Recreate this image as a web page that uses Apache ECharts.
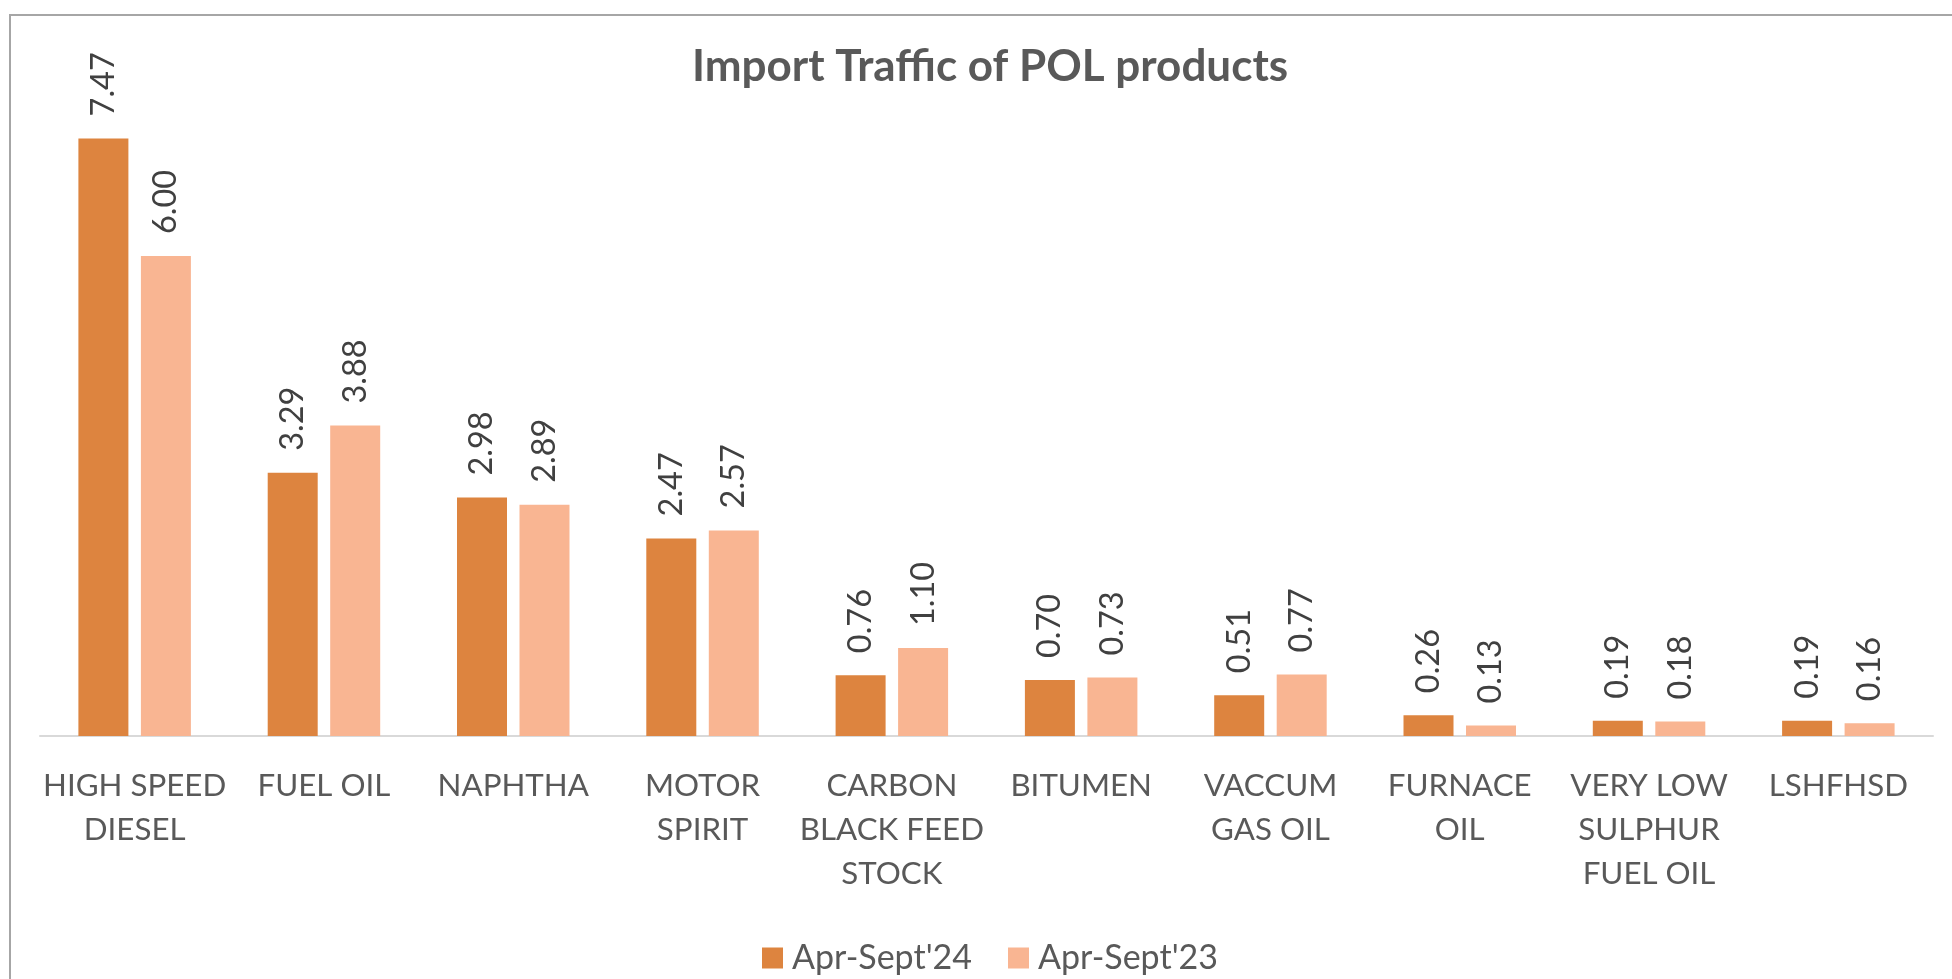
<!DOCTYPE html>
<html>
<head>
<meta charset="utf-8">
<script src="https://cdn.jsdelivr.net/npm/echarts@6/dist/echarts.min.js"></script>
<style>
html,body{margin:0;padding:0;background:#fff;}
#chart{width:1952px;height:979px;}
</style>
</head>
<body>
<div id="chart"></div>
<script>
const categories = ["HIGH SPEED\nDIESEL", "FUEL OIL", "NAPHTHA", "MOTOR\nSPIRIT", "CARBON\nBLACK FEED\nSTOCK", "BITUMEN", "VACCUM\nGAS OIL", "FURNACE\nOIL", "VERY LOW\nSULPHUR\nFUEL OIL", "LSHFHSD"];
const seriesNames = ["Apr-Sept'24", "Apr-Sept'23"];
const values24 = [7.47, 3.29, 2.98, 2.47, 0.76, 0.70, 0.51, 0.26, 0.19, 0.19];
const values23 = [6.00, 3.88, 2.89, 2.57, 1.10, 0.73, 0.77, 0.13, 0.18, 0.16];

const FONT = 'Lato, "Open Sans", sans-serif';
const chart = echarts.init(document.getElementById('chart'));

const labelCfg = {
  show: true,
  position: 'top',
  rotate: 90,
  align: 'left',
  verticalAlign: 'middle',
  distance: 22,
  fontFamily: FONT,
  fontSize: 32.5,
  color: '#404040',
  formatter: p => p.value.toFixed(2)
};

chart.setOption({
  animation: false,
  graphic: [{
    type: 'rect',
    shape: {x: 10, y: 15, width: 1960, height: 1000},
    style: {fill: 'none', stroke: '#a6a6a6', lineWidth: 2},
    silent: true
  }],
  title: {
    text: 'Import Traffic of POL products',
    left: 985,
    textAlign: 'center',
    top: 40,
    textStyle: {fontFamily: FONT, fontSize: 44, fontWeight: 'bold', color: '#595959'}
  },
  legend: {
    data: seriesNames,
    left: 757,
    top: 936,
    itemWidth: 21,
    itemHeight: 21,
    itemGap: 36,
    icon: 'rect',
    textStyle: {fontFamily: FONT, fontSize: 34, color: '#595959', padding: [0,0,0,4]}
  },
  grid: {left: 40, right: 19, top: 96, bottom: 243, containLabel: false},
  xAxis: {
    type: 'category',
    data: categories,
    axisLine: {show: true, lineStyle: {color: '#d9d9d9', width: 2}},
    axisTick: {show: false},
    axisLabel: {
      interval: 0,
      margin: 28,
      fontFamily: FONT,
      fontSize: 31.3,
      lineHeight: 44,
      color: '#595959'
    }
  },
  yAxis: {
    type: 'value',
    min: 0,
    max: 8,
    show: false,
    splitLine: {show: false}
  },
  series: [
    {
      name: seriesNames[0],
      type: 'bar',
      data: values24,
      barWidth: 50,
      barGap: '25%',
      itemStyle: {color: '#dd843f'},
      label: labelCfg
    },
    {
      name: seriesNames[1],
      type: 'bar',
      data: values23,
      barWidth: 50,
      barGap: '25%',
      itemStyle: {color: '#f9b592'},
      label: labelCfg
    }
  ]
});
</script>
</body>
</html>
